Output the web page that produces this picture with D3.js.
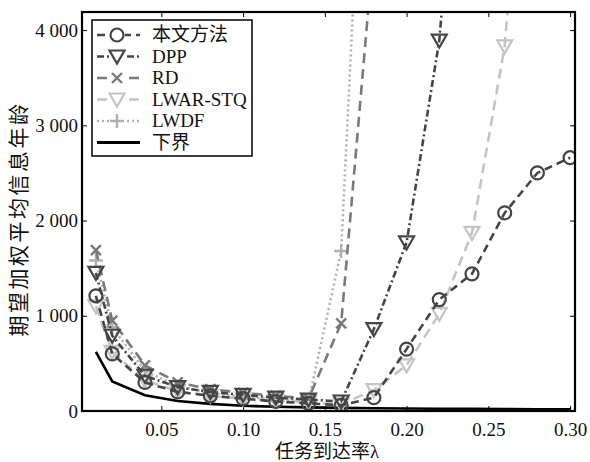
<!DOCTYPE html>
<meta charset="utf-8">
<script src="https://d3js.org/d3.v7.min.js"></script>
<style>
  body { margin: 0; background: #fff; }
</style>
<div id="chart"></div>
<script>
// data
const lambdas = [0.01, 0.02, 0.04, 0.06, 0.08, 0.10, 0.12, 0.14, 0.16, 0.18, 0.20, 0.22, 0.24, 0.26, 0.28, 0.30];
const oursAge = [1210, 600, 300, 200, 160, 130, 100, 80, 60, 140, 650, 1170, 1440, 2080, 2500, 2660];
const dppAge = [1450, 790, 370, 250, 200, 170, 140, 120, 100, 860, 1770, 3890, 8000];
const rdAge = [1690, 950, 480, 300, 230, 190, 160, 130, 920, 4900];
const lwarAge = [1100, 620, 320, 210, 160, 130, 110, 90, 70, 220, 480, 1020, 1870, 3830, 8000];
const lwdfAge = [1580, 880, 420, 260, 190, 150, 120, 100, 1680, 8700];
const boundAge = [620, 310, 165, 105, 75, 55, 45, 38, 33, 29, 26, 24, 22, 20, 19, 18];
const xTicks = [0.05, 0.10, 0.15, 0.20, 0.25, 0.30];
const yTicks = [0, 1000, 2000, 3000, 4000];

const series = [
  {name: "本文方法", values: oursAge, color: "#454545", dash: "8,5", marker: "circle"},
  {name: "DPP", values: dppAge, color: "#454545", dash: "7,3,2,3", marker: "tri"},
  {name: "RD", values: rdAge, color: "#7a7a7a", dash: "10,6", marker: "cross"},
  {name: "LWAR-STQ", values: lwarAge, color: "#c4c4c4", dash: "10,6", marker: "tri"},
  {name: "LWDF", values: lwdfAge, color: "#b0b0b0", dash: "2,3", marker: "plus"},
  {name: "下界", values: boundAge, color: "#000", dash: null, marker: null}
];

const FONT = "Liberation Serif, DejaVu Serif, Noto Sans CJK SC";

const W = 590, H = 462;
const margin = {top: 12, right: 15, bottom: 51, left: 82};
const width = W - margin.left - margin.right,
      height = H - margin.top - margin.bottom;

const svg = d3.select("#chart").append("svg")
    .attr("width", W).attr("height", H);
const g = svg.append("g")
    .attr("transform", `translate(${margin.left},${margin.top})`);

const x = d3.scaleLinear().domain([0.0015, 0.303]).range([0, width]);
const y = d3.scaleLinear().domain([0, 4190]).range([height, 0]);

g.append("clipPath").attr("id", "clip")
  .append("rect").attr("width", width).attr("height", height);

const fmt = d => d3.format(",")(d).replace(",", " ");

// axes with inward ticks, mirrored
g.append("g").attr("transform", `translate(0,${height})`)
  .call(d3.axisBottom(x).tickValues(xTicks).tickSize(-5).tickPadding(12).tickFormat(d3.format(".2f")))
  .call(a => a.select(".domain").remove());
g.append("g")
  .call(d3.axisTop(x).tickValues(xTicks).tickSize(-5).tickFormat(""))
  .call(a => a.select(".domain").remove());
g.append("g")
  .call(d3.axisLeft(y).tickValues(yTicks).tickSize(-5).tickPadding(4).tickFormat(fmt))
  .call(a => a.select(".domain").remove());
g.append("g").attr("transform", `translate(${width},0)`)
  .call(d3.axisRight(y).tickValues(yTicks).tickSize(-5).tickFormat(""))
  .call(a => a.select(".domain").remove());
g.selectAll(".tick line").attr("stroke", "#000");
g.selectAll(".tick text").attr("font-size", 19).attr("fill", "#111")
  .attr("font-family", FONT);

const plot = g.append("g").attr("clip-path", "url(#clip)");
const line = d3.line().x((d, i) => x(lambdas[i])).y(d => y(d));

function drawMarker(sel, type, color) {
  if (type === "circle") {
    sel.append("circle").attr("r", 6.5).attr("fill", "none")
      .attr("stroke", color).attr("stroke-width", 2.2);
  } else if (type === "tri") {
    sel.append("path").attr("d", "M-7.5,-6L7.5,-6L0,7Z").attr("fill", "none")
      .attr("stroke", color).attr("stroke-width", 2.2);
  } else if (type === "cross") {
    sel.append("path").attr("d", "M-5,-5L5,5M-5,5L5,-5")
      .attr("stroke", color).attr("stroke-width", 2.4);
  } else if (type === "plus") {
    sel.append("path").attr("d", "M-7,0L7,0M0,-7L0,7")
      .attr("stroke", color).attr("stroke-width", 2.4);
  }
}

// draw lower bound first, then others on top
const order = [5, 4, 3, 2, 1, 0];
order.forEach(k => {
  const s = series[k];
  plot.append("path").datum(s.values)
    .attr("d", line).attr("fill", "none")
    .attr("stroke", s.color).attr("stroke-width", 2.6)
    .attr("stroke-dasharray", s.dash);
  if (s.marker) {
    s.values.forEach((v, i) => {
      const m = plot.append("g").attr("transform", `translate(${x(lambdas[i])},${y(v)})`);
      drawMarker(m, s.marker, s.color);
    });
  }
});

// frame
g.append("rect").attr("width", width).attr("height", height)
  .attr("fill", "none").attr("stroke", "#000").attr("stroke-width", 2.2);

// legend
const lg = svg.append("g").attr("transform", "translate(92,20)");
lg.append("rect").attr("width", 160).attr("height", 136)
  .attr("fill", "#fff").attr("stroke", "#000").attr("stroke-width", 1.5);
series.forEach((s, i) => {
  const row = lg.append("g").attr("transform", `translate(0,${15 + i * 21.5})`);
  row.append("line").attr("x1", 5).attr("x2", 48).attr("y1", 0).attr("y2", 0)
    .attr("stroke", s.color).attr("stroke-width", s.marker ? 2.6 : 3)
    .attr("stroke-dasharray", s.dash);
  if (s.marker) {
    const m = row.append("g").attr("transform", "translate(25,0)");
    m.append("rect").attr("x", -8).attr("y", -8).attr("width", 16).attr("height", 16).attr("fill", "#fff");
    drawMarker(m, s.marker, s.color);
  }
  row.append("text").attr("x", 60).attr("y", 6)
    .attr("font-size", 19).attr("fill", "#111").attr("font-family", FONT).text(s.name);
});

// axis titles
svg.append("text")
  .attr("transform", `translate(26,${margin.top + 207}) rotate(-90)`)
  .attr("text-anchor", "middle").attr("font-size", 21).attr("letter-spacing", 2.5)
  .attr("fill", "#111").attr("font-family", FONT)
  .text("期望加权平均信息年龄");
svg.append("text")
  .attr("x", 327).attr("y", 458)
  .attr("text-anchor", "middle").attr("font-size", 19).attr("fill", "#111")
  .attr("font-family", FONT)
  .text("任务到达率λ");
</script>
